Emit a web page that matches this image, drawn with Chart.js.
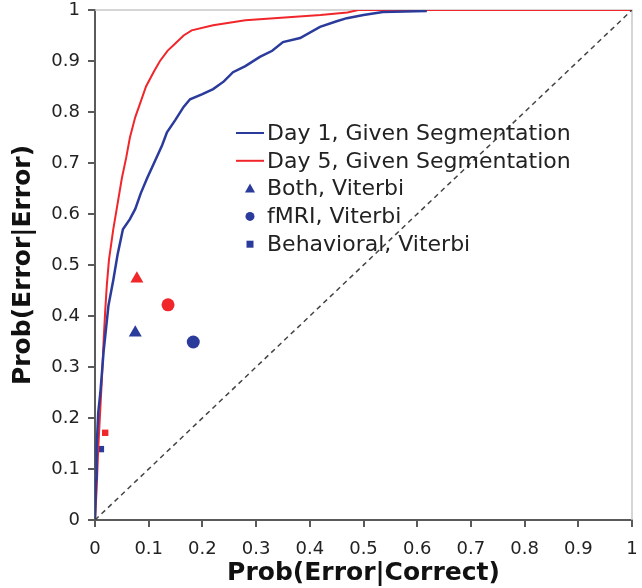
<!DOCTYPE html>
<html>
<head>
<meta charset="utf-8">
<script src="https://cdn.jsdelivr.net/npm/chart.js@4/dist/chart.umd.min.js"></script>
<style>
  html, body { margin: 0; padding: 0; background: #fff; }
  #wrap { width: 642px; height: 588px; }
</style>
</head>
<body>
<div id="wrap"><canvas id="roc"></canvas></div>
<script>
// ROC curves
const day1X = [0, 0.002, 0.003, 0.006, 0.01, 0.013, 0.016, 0.019, 0.025, 0.034, 0.042, 0.052, 0.065, 0.075, 0.085, 0.097, 0.11, 0.125, 0.134, 0.15, 0.165, 0.177, 0.2, 0.22, 0.24, 0.257, 0.28, 0.307, 0.33, 0.35, 0.382, 0.419, 0.45, 0.469, 0.5, 0.536, 0.618];
const day1Y = [0, 0.08, 0.14, 0.21, 0.25, 0.29, 0.33, 0.36, 0.42, 0.47, 0.52, 0.57, 0.59, 0.61, 0.64, 0.67, 0.70, 0.735, 0.76, 0.785, 0.81, 0.825, 0.835, 0.845, 0.86, 0.878, 0.89, 0.908, 0.92, 0.937, 0.945, 0.967, 0.978, 0.984, 0.99, 0.996, 0.998];

const day5X = [0, 0.003, 0.006, 0.01, 0.013, 0.016, 0.019, 0.022, 0.026, 0.034, 0.042, 0.05, 0.058, 0.065, 0.075, 0.085, 0.095, 0.11, 0.121, 0.135, 0.15, 0.165, 0.18, 0.22, 0.28, 0.42, 0.47, 0.49, 1];
const day5Y = [0, 0.06, 0.14, 0.22, 0.28, 0.35, 0.41, 0.46, 0.51, 0.57, 0.62, 0.67, 0.71, 0.75, 0.79, 0.82, 0.85, 0.88, 0.90, 0.92, 0.935, 0.95, 0.96, 0.97, 0.98, 0.99, 0.995, 1, 1];

// Viterbi points: [both, fMRI, behavioral]
const viterbiDay1 = [[0.075, 0.367], [0.183, 0.349], [0.011, 0.139]];
const viterbiDay5 = [[0.078, 0.473], [0.136, 0.422], [0.019, 0.171]];

const ticks = [0, 0.1, 0.2, 0.3, 0.4, 0.5, 0.6, 0.7, 0.8, 0.9, 1];

const BLUE = "#2b3b9c";
const RED = "#f0262b";
const FONT = "'DejaVu Sans', Verdana, sans-serif";

const toPts = (xs, ys) => xs.map((x, i) => ({ x: x, y: ys[i] }));
const markerStyles = ["triangle", "circle", "rect"];
const markerSizes = [7.5, 6.5, 4.5];

function markerSet(pts, color) {
    return pts.map((p, i) => ({
        data: [{ x: p[0], y: p[1] }],
        showLine: false,
        pointStyle: markerStyles[i],
        pointRadius: markerSizes[i],
        backgroundColor: color,
        borderColor: color,
        borderWidth: 0
    }));
}

// legend drawn inside the plot, like the original
const legendItems = [
    { text: "Day 1, Given Segmentation", line: BLUE },
    { text: "Day 5, Given Segmentation", line: RED },
    { text: "Both, Viterbi", marker: "triangle" },
    { text: "fMRI, Viterbi", marker: "circle" },
    { text: "Behavioral, Viterbi", marker: "rect" }
];

const frameAndLegend = {
    id: "frameAndLegend",
    beforeDatasetsDraw(chart) {
        const { ctx, chartArea: a } = chart;
        ctx.save();
        ctx.strokeStyle = "#c8c8c8";
        ctx.lineWidth = 1.5;
        ctx.beginPath();
        ctx.moveTo(a.left, a.top);
        ctx.lineTo(a.right, a.top);
        ctx.lineTo(a.right, a.bottom);
        ctx.stroke();
        ctx.restore();
    },
    afterDatasetsDraw(chart) {
        const ctx = chart.ctx;
        const x0 = 236, y0 = 133, step = 27.8;
        ctx.save();
        ctx.font = "22px " + FONT;
        ctx.textBaseline = "middle";
        legendItems.forEach((it, i) => {
            const y = y0 + i * step;
            if (it.line) {
                ctx.strokeStyle = it.line;
                ctx.lineWidth = 2;
                ctx.beginPath();
                ctx.moveTo(x0, y);
                ctx.lineTo(x0 + 28, y);
                ctx.stroke();
            } else {
                ctx.fillStyle = BLUE;
                ctx.beginPath();
                const cx = x0 + 14;
                if (it.marker === "triangle") {
                    ctx.moveTo(cx, y - 5); ctx.lineTo(cx + 5, y + 4); ctx.lineTo(cx - 5, y + 4);
                } else if (it.marker === "circle") {
                    ctx.arc(cx, y, 4.5, 0, Math.PI * 2);
                } else {
                    ctx.rect(cx - 3.5, y - 3.5, 7, 7);
                }
                ctx.fill();
            }
            ctx.fillStyle = "#222";
            ctx.fillText(it.text, x0 + 31, y + 1);
        });
        ctx.restore();
    }
};

const axisCommon = {
    type: "linear",
    min: 0,
    max: 1,
    border: { color: "#5a5a5a", width: 2 },
    grid: { drawOnChartArea: false, drawTicks: true, tickLength: 7, color: "#5a5a5a", lineWidth: 2 },
    afterBuildTicks: axis => { axis.ticks = ticks.map(v => ({ value: v })); }
};

new Chart(document.getElementById("roc"), {
    type: "scatter",
    data: {
        datasets: [
            {
                data: [{ x: 0, y: 0 }, { x: 1, y: 1 }],
                showLine: true,
                borderColor: "#444",
                borderWidth: 1.5,
                borderDash: [5, 4],
                pointRadius: 0
            },
            {
                data: toPts(day1X, day1Y),
                showLine: true,
                borderColor: BLUE,
                borderWidth: 2.5,
                pointRadius: 0
            },
            {
                data: toPts(day5X, day5Y),
                showLine: true,
                borderColor: RED,
                borderWidth: 2,
                pointRadius: 0
            },
            ...markerSet(viterbiDay1, BLUE),
            ...markerSet(viterbiDay5, RED)
        ]
    },
    options: {
        responsive: true,
        maintainAspectRatio: false,
        animation: false,
        layout: { padding: { top: 10, right: 10, left: 0, bottom: 0 } },
        plugins: {
            legend: { display: false },
            tooltip: { enabled: false }
        },
        elements: { line: { tension: 0 } },
        scales: {
            x: {
                ...axisCommon,
                position: "bottom",
                ticks: { color: "#222", font: { family: FONT, size: 18 }, padding: 12, callback: v => String(v) },
                title: { display: true, text: "Prob(Error|Correct)", color: "#111", font: { family: FONT, size: 25, weight: "bold" }, padding: { top: 0, bottom: 0 } },
                afterFit: s => { s.height = 68; s.paddingLeft = 0; s.paddingRight = 0; }
            },
            y: {
                ...axisCommon,
                position: "left",
                ticks: { color: "#222", font: { family: FONT, size: 18 }, padding: 8, callback: v => String(v) },
                title: { display: true, text: "Prob(Error|Error)", color: "#111", font: { family: FONT, size: 25, weight: "bold" }, padding: { top: 8, bottom: 0 } },
                afterFit: s => { s.width = 95; s.paddingTop = 0; s.paddingBottom = 0; }
            }
        }
    },
    plugins: [frameAndLegend]
});
</script>
</body>
</html>
